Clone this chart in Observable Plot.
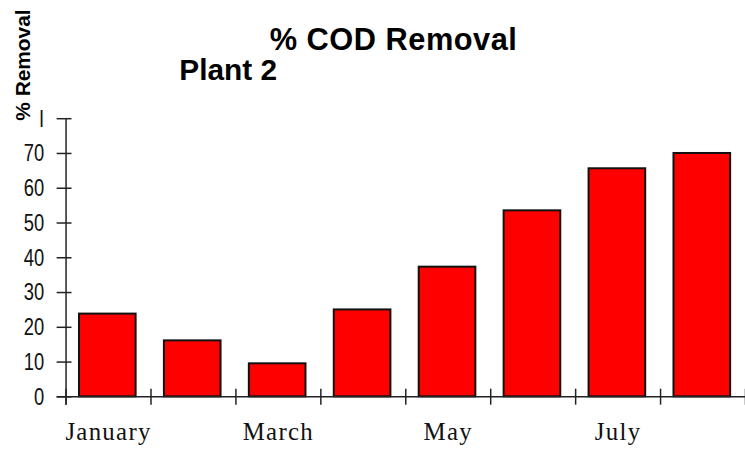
<!DOCTYPE html>
<html>
<head>
<meta charset="utf-8">
<script src="https://cdn.jsdelivr.net/npm/d3@7"></script>
<script src="https://cdn.jsdelivr.net/npm/@observablehq/plot@0.6"></script>
<style>
  html, body { margin: 0; padding: 0; background: #fff; overflow: hidden; width: 745px; height: 450px; }
  #chart svg { display: block; background: #fff; }
</style>
</head>
<body>
<div id="chart"></div>
<script>
// ---- data ----
const months = ["January", "February", "March", "April", "May", "June", "July", "August"];
const removal = [23.8, 16.1, 9.5, 25, 37.3, 53.5, 65.6, 70];
const yTicks = [0, 10, 20, 30, 40, 50, 60, 70, 80];
const yTickLabels = ["0", "10", "20", "30", "40", "50", "60", "70", "I"];
const xLabelMonths = ["January", "March", "May", "July"];
const title = "% COD Removal";
const subtitle = "Plant 2";
const yTitle = "% Removal";

const table = months.map((m, i) => ({month: m, index: i, value: removal[i]}));
const boundaries = d3.range(months.length + 1);

const sans = "'Liberation Sans', Arial, sans-serif";
const serif = "'Liberation Serif', 'DejaVu Serif', serif";

const chart = Plot.plot({
  width: 750,
  height: 450,
  marginLeft: 66,
  marginRight: 0,
  marginTop: 119,
  marginBottom: 51,
  x: {type: "linear", domain: [0, months.length], axis: null},
  y: {domain: [0, 80], axis: null},
  marks: [
    Plot.rectY(table, {
      x1: d => d.index + 0.158,
      x2: d => d.index + 0.825,
      y1: 0,
      y2: "value",
      fill: "#ff0000",
      stroke: "#111",
      strokeWidth: 2
    }),
    Plot.ruleX([0], {y1: -2.4, y2: 80, stroke: "#222", strokeWidth: 1.5}),
    Plot.ruleY([0], {x1: -0.105, x2: months.length, stroke: "#222", strokeWidth: 1.5}),
    Plot.ruleY(yTicks, {x1: -0.105, x2: 0.07, stroke: "#222", strokeWidth: 1.5}),
    Plot.ruleX(boundaries, {y1: -2.4, y2: 2.2, stroke: "#222", strokeWidth: 1.5}),
    Plot.text(yTicks, {
      x: 0, y: d => d, text: (d, i) => yTickLabels[i],
      dx: -22, textAnchor: "end", fontSize: 25, fontFamily: sans, fill: "#111"
    }),
    Plot.text(xLabelMonths, {
      x: d => months.indexOf(d) + 0.5, y: 0, text: d => d,
      dy: 35, fontSize: 25, fontFamily: serif, fill: "#111"
    }),
    Plot.text([title], {
      frameAnchor: "top-left", dx: 205, dy: -69, textAnchor: "start", lineAnchor: "bottom",
      fontSize: 31, fontWeight: "bold", fontFamily: sans, fill: "#000"
    }),
    Plot.text([subtitle], {
      frameAnchor: "top-left", dx: 114, dy: -39, textAnchor: "start", lineAnchor: "bottom",
      fontSize: 30, fontWeight: "bold", fontFamily: sans, fill: "#000"
    }),
    Plot.text([yTitle], {
      frameAnchor: "top-left", dx: -36, dy: -54, rotate: -90, textAnchor: "middle", lineAnchor: "bottom",
      fontSize: 21, fontWeight: "bold", fontFamily: sans, fill: "#000"
    })
  ]
});

// typographic touches: condensed tick digits, spaced month names / title
const texts = d3.select(chart).selectAll("text");
texts.each(function () {
  const t = this.textContent;
  const sel = d3.select(this);
  if (yTickLabels.includes(t)) {
    sel.attr("transform", sel.attr("transform") + " scale(0.74,1)");
  } else if (xLabelMonths.includes(t)) {
    sel.style("letter-spacing", "1.3px");
  } else if (t === title) {
    sel.style("letter-spacing", "0.5px");
  }
});
document.getElementById("chart").appendChild(chart);
</script>
</body>
</html>
